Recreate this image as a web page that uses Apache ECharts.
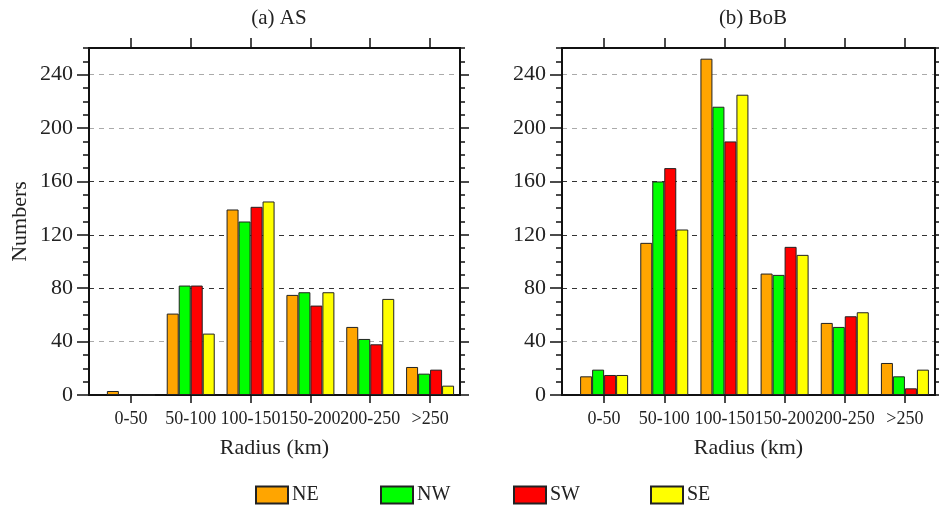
<!DOCTYPE html>
<html>
<head>
<meta charset="utf-8">
<script src="https://cdn.jsdelivr.net/npm/echarts@6/dist/echarts.min.js"></script>
<style>
  html, body { margin: 0; padding: 0; background: #fff; }
  #chart { width: 939px; height: 509px; }
</style>
</head>
<body>
<div id="chart"></div>
<script>
// categories on the radius axis (placed at x = 1..6)
var categories = ['0-50', '50-100', '100-150', '150-200', '200-250', '>250'];
var catPos = [1, 2, 3, 4, 5, 6];
var yTicks = [0, 40, 80, 120, 160, 200, 240];

// (a) AS
var asNE = [3, 61, 139, 75, 51, 21];
var asNW = [0, 82, 130, 77, 42, 16];
var asSW = [0, 82, 141, 67, 38, 19];
var asSE = [0, 46, 145, 77, 72, 7];

// (b) BoB
var bobNE = [14, 114, 252, 91, 54, 24];
var bobNW = [19, 160, 216, 90, 51, 14];
var bobSW = [15, 170, 190, 111, 59, 5];
var bobSE = [15, 124, 225, 105, 62, 19];

var names = ['NE', 'NW', 'SW', 'SE'];
var colors = ['#FFA500', '#00FF00', '#FF0000', '#FFFF00'];

var FONT = 'Liberation Serif';
var LINE = '#111';

function xAxes(gridIndex) {
  var common = {
    gridIndex: gridIndex,
    type: 'value',
    min: 0.3,
    max: 6.5,
    splitLine: {show: false},
    axisLine: {show: true, onZero: false, lineStyle: {color: LINE, width: 2}}
  };
  return [
    Object.assign({}, common, {
      position: 'bottom',
      name: 'Radius (km)',
      nameLocation: 'middle',
      nameGap: 42,
      nameTextStyle: {fontFamily: FONT, fontSize: 22, color: '#222'},
      axisTick: {show: true, length: 8, customValues: catPos, lineStyle: {color: LINE, width: 1.5}},
      axisLabel: {
        show: true, margin: 15, customValues: catPos,
        fontFamily: FONT, fontSize: 18, color: '#222',
        formatter: function (v) { return categories[Math.round(v) - 1] || ''; }
      }
    }),
    Object.assign({}, common, {
      position: 'top',
      axisTick: {show: true, length: 10, customValues: catPos, lineStyle: {color: LINE, width: 1.5}},
      axisLabel: {show: false}
    })
  ];
}

function yAxes(gridIndex, withName) {
  var base = {
    gridIndex: gridIndex,
    type: 'value',
    min: 0,
    max: 260,
    axisLine: {show: true, lineStyle: {color: LINE, width: 2}}
  };
  var leftMajor = Object.assign({}, base, {
    position: 'left',
    interval: 40,
    axisTick: {show: true, length: 12, customValues: yTicks, lineStyle: {color: LINE, width: 1.5}},
    axisLabel: {
      show: true, margin: 16, customValues: yTicks,
      fontFamily: FONT, fontSize: 22, color: '#222'
    },
    splitLine: {
      show: true,
      lineStyle: {
        type: [5, 5], width: 1,
        color: ['#888', '#aaa', '#333', '#333', '#333', '#aaa', '#aaa', '#aaa']
      }
    }
  });
  if (withName) {
    leftMajor.name = 'Numbers';
    leftMajor.nameLocation = 'middle';
    leftMajor.nameRotate = 90;
    leftMajor.nameGap = 58;
    leftMajor.nameTextStyle = {fontFamily: FONT, fontSize: 22, color: '#222'};
  }
  var leftMinor = Object.assign({}, base, {
    position: 'left',
    interval: 10,
    axisLine: {show: false},
    axisTick: {show: true, length: 6, lineStyle: {color: LINE, width: 1.5}},
    axisLabel: {show: false},
    splitLine: {show: false}
  });
  var rightMajor = Object.assign({}, base, {
    position: 'right',
    interval: 40,
    axisTick: {show: true, length: 9, customValues: yTicks, lineStyle: {color: LINE, width: 1.5}},
    axisLabel: {show: false},
    splitLine: {show: false}
  });
  var rightMinor = Object.assign({}, base, {
    position: 'right',
    interval: 10,
    axisLine: {show: false},
    axisTick: {show: true, length: 5, lineStyle: {color: LINE, width: 1.5}},
    axisLabel: {show: false},
    splitLine: {show: false}
  });
  return [leftMajor, leftMinor, rightMajor, rightMinor];
}

function barSeries(gridIndex, groups) {
  return groups.map(function (vals, i) {
    return {
      name: names[i],
      type: 'bar',
      xAxisIndex: gridIndex * 2,
      yAxisIndex: gridIndex * 4,
      barWidth: 12,
      barGap: '0%',
      itemStyle: {color: colors[i], borderColor: '#222', borderWidth: 1},
      data: catPos.map(function (x, k) { return [x, vals[k]]; })
    };
  });
}

var legendLeft = [255, 380, 513, 650];

var chart = echarts.init(document.getElementById('chart'));
chart.setOption({
  animation: false,
  backgroundColor: '#fff',
  textStyle: {fontFamily: FONT},
  title: [
    {text: '(a) AS', left: 274, top: 3, textAlign: 'center',
     textStyle: {fontFamily: FONT, fontSize: 21, fontWeight: 'normal', color: '#222'}},
    {text: '(b) BoB', left: 748, top: 3, textAlign: 'center',
     textStyle: {fontFamily: FONT, fontSize: 21, fontWeight: 'normal', color: '#222'}}
  ],
  legend: names.map(function (n, i) {
    return {
      data: [n], left: legendLeft[i], top: 485, padding: 0,
      itemWidth: 32, itemHeight: 17, itemGap: 4,
      icon: 'rect', selectedMode: false,
      textStyle: {fontFamily: FONT, fontSize: 20, color: '#222', padding: [0, 0, 0, -1]}
    };
  }),
  grid: [
    {left: 89, top: 48, width: 371, height: 347},
    {left: 562, top: 48, width: 373, height: 347}
  ],
  xAxis: xAxes(0).concat(xAxes(1)),
  yAxis: yAxes(0, true).concat(yAxes(1, false)),
  series: barSeries(0, [asNE, asNW, asSW, asSE]).concat(barSeries(1, [bobNE, bobNW, bobSW, bobSE]))
});
</script>
</body>
</html>
